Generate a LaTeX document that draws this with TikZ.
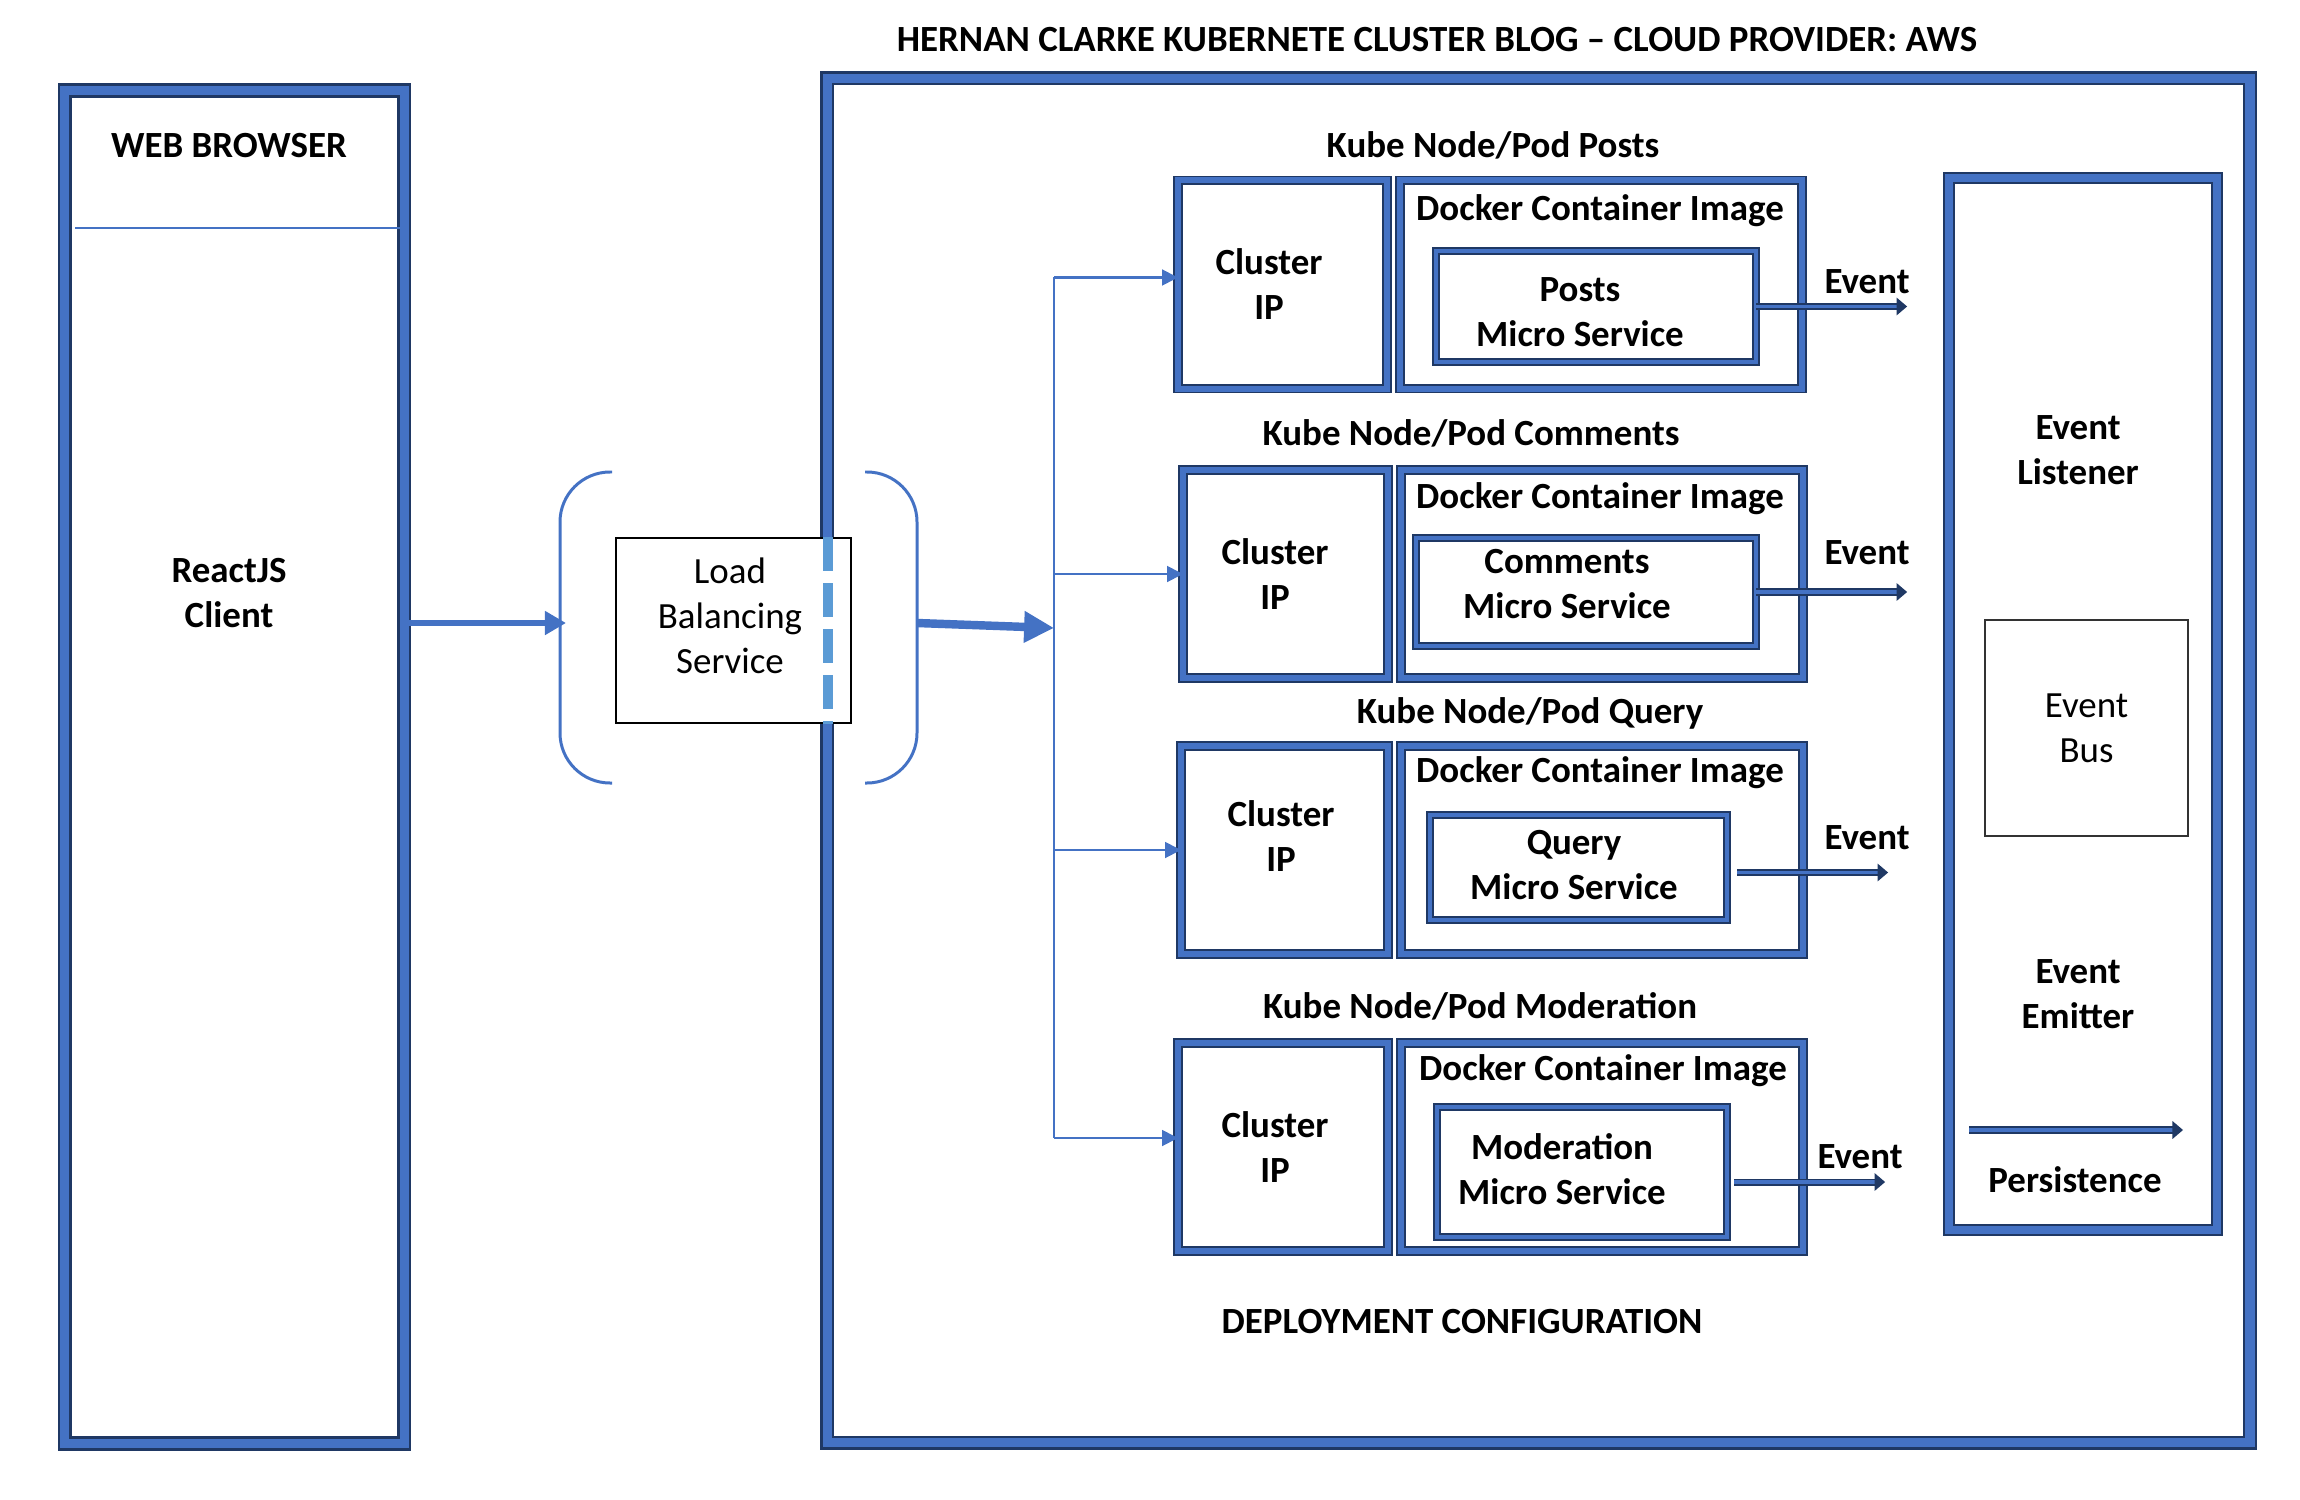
\documentclass[tikz,border=0pt]{standalone}
\usepackage{fontspec}
\setmainfont{Carlito}
\usetikzlibrary{arrows.meta,positioning}
\definecolor{frameblue}{RGB}{68,114,196}
\definecolor{framedark}{RGB}{31,56,100}
\definecolor{dashblue}{RGB}{91,155,213}
\newcommand{\lblfont}{\fontsize{10.5}{12.8}\selectfont}

\begin{document}
\begin{tikzpicture}[x=0.01cm, y=-0.01cm, node distance=0.13cm,
    every node/.style={font=\lblfont, align=center},
    bt/.style={font=\lblfont\bfseries},
    frm/.style={draw=framedark, double=frameblue, line width=0.75pt, double distance=2.6pt, inner sep=0pt, outer sep=0pt},
    pod/.style={draw=framedark, double=frameblue, line width=0.55pt, double distance=1.7pt, inner sep=0pt, outer sep=0pt, minimum height=2.08cm},
    mic/.style={draw=framedark, double=frameblue, line width=0.5pt, double distance=1.3pt, inner sep=0pt, outer sep=0pt},
    evt/.style={draw=framedark, double=frameblue, line width=0.45pt, double distance=1.1pt, -{Triangle[length=3pt,width=5pt]}},
    lnk/.style={draw=frameblue, line width=0.6pt, -{Triangle[length=4.5pt,width=4.5pt]}},
    brk/.style={draw=frameblue, line width=0.85pt, rounded corners=0.5cm}]
  \useasboundingbox (0,0) rectangle (2300,1500);

  % browser side
  \node[frm, minimum width=3.39cm, minimum height=13.52cm] (browser) at (234.5,767) {};
  \node[bt] (browsert) at (229,146) {WEB BROWSER};
  \draw[frameblue, line width=0.8pt] (75,228) -- (404,228);
  \node[bt] (client) at (229,593) {ReactJS\\Client};

  % cluster frame
  \node[bt] (title) at (1437,40) {HERNAN CLARKE KUBERNETE CLUSTER BLOG – CLOUD PROVIDER: AWS};
  \node[frm, minimum width=14.22cm, minimum height=13.64cm] (cluster) at (1538.5,760.5) {};

  % load balancer
  \draw[brk] (612,472) -| (560,783) -- (612,783);
  \draw[brk] (865,472) -| (917,783) -- (865,783);
  \node[draw, fill=white, line width=0.5pt, minimum width=2.35cm, minimum height=1.85cm, inner sep=0pt] (lb) at (733.5,630.5) {};
  \draw[dashblue, line width=3pt, dash pattern=on 0.34cm off 0.12cm] ([xshift=-0.24cm]lb.north east) -- ([xshift=-0.24cm]lb.south east);
  \node (lbt) at (730,616) {Load\\Balancing\\Service};

  % posts
  \node[bt] (pod1) at (1493,145) {Kube Node/Pod Posts};
  \node[pod, minimum width=2.09cm] (cip1) at (1282.5,284.5) {};
  \node[pod, minimum width=4.02cm, right=of cip1] (doc1) {};
  \node[mic, minimum width=3.2cm, minimum height=1.11cm] (mic1) at (1596,306.5) {};
  \node[bt] (cip1t) at (1269,284) {Cluster\\IP};
  \node[bt] (doc1t) at (1600,211) {Docker Container Image};
  \node[bt] (mic1t) at (1580,312) {Posts\\Micro Service};
  \draw[evt] (mic1.east) -- ++(151,0);
  \node[bt] (ev1) at (1867,282) {Event};

  % comments
  \node[bt] (pod2) at (1471,433) {Kube Node/Pod Comments};
  \node[pod, minimum width=2.05cm] (cip2) at (1285.5,574) {};
  \node[pod, minimum width=4.02cm, right=of cip2] (doc2) {};
  \node[mic, minimum width=3.4cm, minimum height=1.08cm] (mic2) at (1586,592) {};
  \node[bt] (cip2t) at (1275,574) {Cluster\\IP};
  \node[bt] (doc2t) at (1600,499) {Docker Container Image};
  \node[bt] (mic2t) at (1567,584) {Comments\\Micro Service};
  \draw[evt] (mic2.east) -- ++(151,0);
  \node[bt] (ev2) at (1867,553) {Event};

  % query
  \node[bt] (pod3) at (1530,713) {Kube Node/Pod Query};
  \node[pod, minimum width=2.07cm] (cip3) at (1284.5,850) {};
  \node[pod, minimum width=4.02cm, right=of cip3] (doc3) {};
  \node[mic, minimum width=2.97cm, minimum height=1.05cm] (mic3) at (1578.5,867.5) {};
  \node[bt] (cip3t) at (1281,836) {Cluster\\IP};
  \node[bt] (doc3t) at (1600,773) {Docker Container Image};
  \node[bt] (mic3t) at (1574,865) {Query\\Micro Service};
  \draw[evt] ([xshift=0.1cm,yshift=-0.05cm]mic3.east) -- ++(151,0);
  \node[bt] (ev3) at (1867,838) {Event};

  % moderation
  \node[bt] (pod4) at (1480,1006) {Kube Node/Pod Moderation};
  \node[pod, minimum width=2.1cm] (cip4) at (1283,1147) {};
  \node[pod, minimum width=4.02cm, right=of cip4] (doc4) {};
  \node[mic, minimum width=2.9cm, minimum height=1.3cm] (mic4) at (1582,1172) {};
  \node[bt] (cip4t) at (1275,1147) {Cluster\\IP};
  \node[bt] (doc4t) at (1603,1071) {Docker Container Image};
  \node[bt] (mic4t) at (1562,1169) {Moderation\\Micro Service};
  \draw[evt] ([xshift=0.07cm,yshift=-0.1cm]mic4.east) -- ++(151,0);
  \node[bt] (ev4) at (1860,1157) {Event};

  % routing to the pods
  \coordinate (lbin) at (566,623);
  \coordinate (lbout) at (917,623);
  \coordinate (bus) at (1054,628);
  \draw[frameblue, line width=1.8pt, -{Triangle[length=6pt,width=6.5pt]}] (browser.east |- lbin) -- (lbin);
  \draw[frameblue, line width=2.4pt, -{Triangle[length=8.5pt,width=8.5pt]}] (lbout) -- (bus);
  \draw[frameblue, line width=0.6pt] ([yshift=0.07cm]bus |- cip1) -- ([yshift=0.09cm]bus |- cip4);
  \draw[lnk] ([yshift=0.07cm]bus |- cip1) -- ([yshift=0.07cm]cip1.west);
  \draw[lnk] (bus |- cip2) -- (cip2);
  \draw[lnk] (bus |- cip3) -- (cip3);
  \draw[lnk] ([yshift=0.09cm]bus |- cip4) -- ([yshift=0.09cm]cip4.west);

  % event system
  \node[frm, line width=0.6pt, double distance=2.2pt, minimum width=2.68cm, minimum height=10.52cm] (evsys) at (2083,704) {};
  \node[bt] (listen) at (2078,450) {Event\\Listener};
  \node[draw=black!80, line width=0.5pt, minimum width=2.03cm, minimum height=2.16cm, inner sep=0pt] (evbus) at (2086.5,728) {Event\\Bus};
  \node[bt] (emit) at (2078,994) {Event\\Emitter};
  \coordinate (pers) at (1969,1130);
  \draw[evt] (pers) -- ++(214,0);
  \node[bt] (perst) at (2075,1180) {Persistence};

  \node[bt] (deploy) at (1462,1322) {DEPLOYMENT CONFIGURATION};
\end{tikzpicture}
\end{document}
